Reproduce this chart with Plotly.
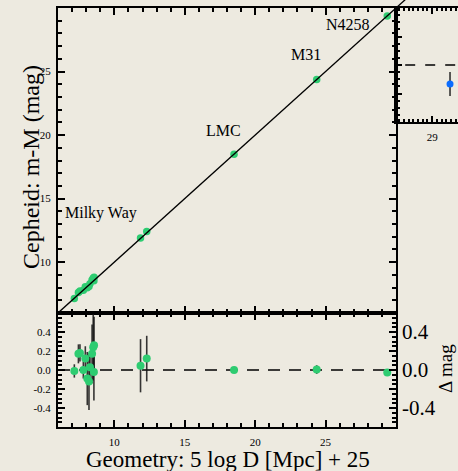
import plotly.graph_objects as go

# ---------------- data ----------------
mw_geo = [7.16, 7.45, 7.56, 7.80, 7.94, 8.08, 8.20, 8.27, 8.42, 8.50, 8.56, 8.55]
mw_ceph = [7.15, 7.62, 7.74, 7.80, 8.06, 7.99, 8.08, 8.30, 8.59, 8.74, 8.82, 8.53]
mw_res = [-0.01, 0.17, 0.18, 0.00, 0.12, -0.09, -0.12, 0.03, 0.17, 0.24, 0.26, -0.02]
mw_err = [0.07, 0.10, 0.09, 0.09, 0.13, 0.28, 0.30, 0.17, 0.31, 0.35, 0.30, 0.30]

gal_names = ["", "", "LMC", "M31", "N4258"]
gal_geo = [11.86, 12.30, 18.50, 24.37, 29.38]
gal_ceph = [11.90, 12.42, 18.50, 24.38, 29.37]
gal_res = [0.045, 0.12, 0.00, 0.005, -0.025]
gal_err = [0.28, 0.24, 0.03, 0.045, 0.035]

one_to_one = [6, 32]
zero_x = [6, 30]
zero_y = [0, 0]

inset_x = [29.38]
inset_y = [-0.133]
inset_err = [0.084]
inset_zero_x = [28.0, 30.0]

label_text = ["Milky Way", "LMC", "M31", "N4258"]
label_x = [6.36, 17.73, 23.59, 26.58]
label_y = [13.84, 20.35, 26.31, 28.67]
label_anchor = ["left", "center", "center", "center"]

main_xticks = [10, 15, 20, 25]
main_yticks = [10, 15, 20, 25]
res_yticks = [-0.4, -0.2, 0.0, 0.2, 0.4]
res_yticktext = ["-0.4", "-0.2", "0.0", "0.2", "0.4"]
res_right_ticks = [-0.4, 0.0, 0.4]
res_right_text = ["-0.4", "0.0", "0.4"]

# ---------------- layout geometry ----------------
W, H = 458, 471
def fx(p):
    return p / W
def fy(p):
    return 1 - p / H

L, R = 58, 396
T, MID, B = 8, 313, 427
INS_B = 122

BG = "rgb(237,234,224)"
GREEN = "#2ecc71"
BLUE = "#0a6cff"
FONT = "Liberation Serif"

xdom_main = [fx(L), fx(R)]
ydom_main = [fy(MID), fy(T)]
ydom_res = [fy(B), fy(MID)]
xdom_ins = [fx(R), 1.0]
ydom_ins = [fy(INS_B), fy(T)]

# overlay axes for the 1:1 line that runs past the panel edge
xr_main = [6, 30]
yr_main = [6, 30]
sx = (R - L) / (xr_main[1] - xr_main[0])
sy = (MID - T) / (yr_main[1] - yr_main[0])
xr_line = [6, 6 + (W - L) / sx]
yr_line = [6, 6 + MID / sy]

fig = go.Figure()

fig.add_trace(go.Scatter(x=one_to_one, y=one_to_one, mode="lines",
                         line=dict(color="black", width=1.3),
                         xaxis="x4", yaxis="y4", showlegend=False, hoverinfo="skip"))

fig.add_trace(go.Scatter(x=mw_geo + gal_geo, y=mw_ceph + gal_ceph, mode="markers",
                         marker=dict(color=GREEN, size=7.5),
                         xaxis="x", yaxis="y", showlegend=False, cliponaxis=False))

fig.add_trace(go.Scatter(x=zero_x, y=zero_y, mode="lines",
                         line=dict(color="black", width=1.3, dash="12px,9px"),
                         xaxis="x2", yaxis="y2", showlegend=False))

fig.add_trace(go.Scatter(x=mw_geo + gal_geo, y=mw_res + gal_res, mode="markers",
                         marker=dict(color=GREEN, size=8),
                         error_y=dict(type="data", array=mw_err + gal_err, visible=True,
                                      color="rgba(20,20,20,0.85)", thickness=1.6, width=0),
                         xaxis="x2", yaxis="y2", showlegend=False))

fig.add_trace(go.Scatter(x=[20], y=[0], mode="markers", marker=dict(opacity=0),
                         xaxis="x2", yaxis="y3", showlegend=False, hoverinfo="skip"))

fig.add_trace(go.Scatter(x=inset_zero_x, y=[0, 0], mode="lines",
                         line=dict(color="black", width=1.3, dash="10px,10px"),
                         xaxis="x5", yaxis="y5", showlegend=False))
fig.add_trace(go.Scatter(x=inset_x, y=inset_y, mode="markers",
                         marker=dict(color=BLUE, size=7),
                         error_y=dict(type="data", array=inset_err, visible=True,
                                      color="rgba(20,20,20,0.85)", thickness=1.6, width=0),
                         xaxis="x5", yaxis="y5", showlegend=False))

tickfont = dict(family=FONT, size=11, color="black")

def frame(**kw):
    d = dict(showline=True, linecolor="black", linewidth=2, mirror="ticks",
             ticks="inside", tickcolor="black", tickwidth=1.5, ticklen=7,
             showgrid=False, zeroline=False, tickfont=tickfont)
    d.update(kw)
    return d

fig.update_layout(
    width=W, height=H,
    margin=dict(l=0, r=0, t=0, b=0),
    paper_bgcolor=BG, plot_bgcolor="rgba(0,0,0,0)",
    showlegend=False,
    xaxis=frame(domain=xdom_main, range=xr_main, anchor="y", tickmode="array",
                tickvals=main_xticks, showticklabels=False,
                minor=dict(dtick=1, tick0=0, ticks="inside", ticklen=4, tickcolor="black", tickwidth=1.5)),
    yaxis=frame(domain=ydom_main, range=yr_main, anchor="x", tickmode="array",
                tickvals=main_yticks, ticklabelstandoff=3,
                minor=dict(dtick=1, tick0=0, ticks="inside", ticklen=4, tickcolor="black", tickwidth=1.5)),
    xaxis2=frame(domain=xdom_main, range=xr_main, anchor="y2", tickmode="array",
                 tickvals=main_xticks, ticklabelstandoff=4,
                 minor=dict(dtick=1, tick0=0, ticks="inside", ticklen=4, tickcolor="black", tickwidth=1.5)),
    yaxis2=frame(domain=ydom_res, range=[-0.6, 0.6], anchor="x2", tickmode="array",
                 tickvals=res_yticks, ticktext=res_yticktext, ticklabelstandoff=3,
                 minor=dict(dtick=0.05, tick0=0, ticks="inside", ticklen=4, tickcolor="black", tickwidth=1.5)),
    yaxis3=dict(overlaying="y2", anchor="x2", side="right", range=[-0.6, 0.6],
                tickmode="array", tickvals=res_right_ticks, ticktext=res_right_text,
                showline=False, ticks="", showgrid=False, zeroline=False,
                ticklabelstandoff=5,
                tickfont=dict(family=FONT, size=21, color="black")),
    xaxis4=dict(domain=[fx(L), 1.0], range=xr_line, anchor="y4", visible=False),
    yaxis4=dict(domain=[fy(MID), 1.0], range=yr_line, anchor="x4", visible=False),
    xaxis5=frame(domain=xdom_ins, range=[28.23, 29.55], anchor="y5", tickmode="array",
                 tickvals=[29], ticktext=["29"], ticklen=6, ticklabelstandoff=4,
                 minor=dict(dtick=0.1, tick0=0, ticks="inside", ticklen=3, tickcolor="black", tickwidth=1.5)),
    yaxis5=frame(domain=ydom_ins, range=[-0.4, 0.4], anchor="x5", mirror=False,
                 tickmode="array", tickvals=[-0.4, -0.2, 0, 0.2, 0.4], ticklen=6,
                 showticklabels=False,
                 minor=dict(dtick=0.05, tick0=0, ticks="inside", ticklen=4, tickcolor="black", tickwidth=1.5)),
)

annotations = []
for t, x, y, a in zip(label_text, label_x, label_y, label_anchor):
    annotations.append(dict(text=t, x=x, y=y, xref="x", yref="y", xanchor=a, yanchor="middle",
                            showarrow=False, font=dict(family=FONT, size=16, color="black")))

annotations.append(dict(text="Cepheid: m-M (mag)", x=fx(31), y=fy(167), xref="paper", yref="paper",
                        xanchor="center", yanchor="middle", textangle=-90, showarrow=False,
                        font=dict(family=FONT, size=24, color="black")))
annotations.append(dict(text="Geometry: 5 log D [Mpc] + 25", x=fx(228), y=fy(459), xref="paper", yref="paper",
                        xanchor="center", yanchor="middle", showarrow=False,
                        font=dict(family=FONT, size=23, color="black")))
annotations.append(dict(text="Δ mag", x=fx(445), y=fy(369), xref="paper", yref="paper",
                        xanchor="center", yanchor="middle", textangle=-90, showarrow=False,
                        font=dict(family=FONT, size=19, color="black")))
fig.update_layout(annotations=annotations)

fig.write_html("out.html")
